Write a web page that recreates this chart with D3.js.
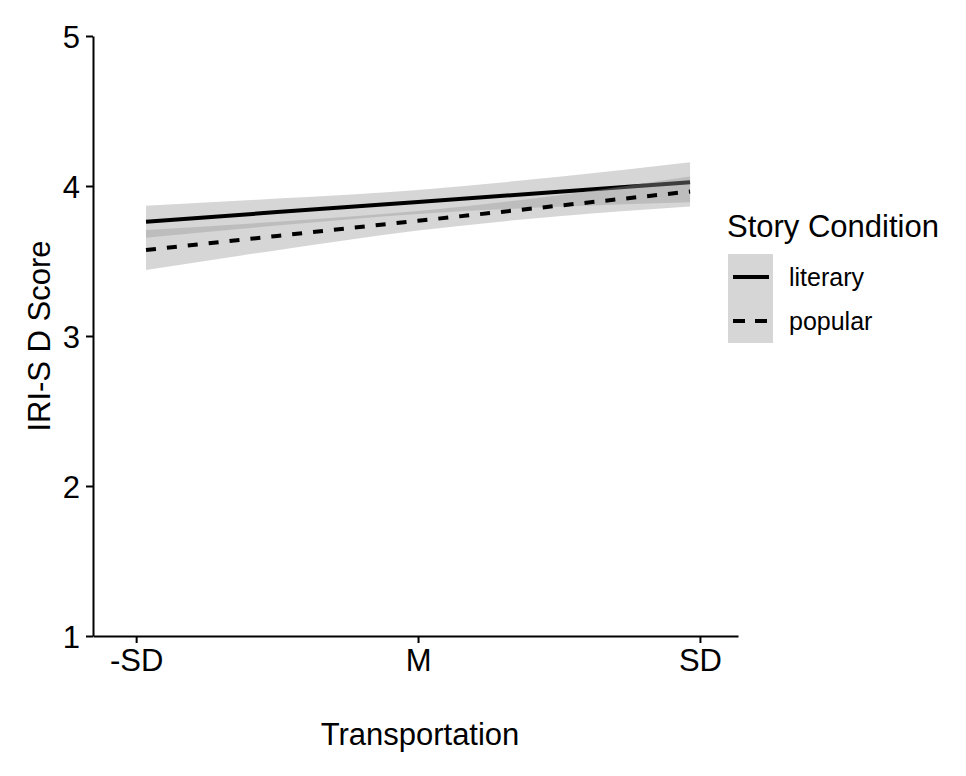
<!DOCTYPE html>
<html>
<head>
<meta charset="utf-8">
<script src="https://cdn.jsdelivr.net/npm/d3@7"></script>
<style>
  body { margin: 0; background: #fff; }
  text { font-family: "Liberation Sans", Arial, sans-serif; fill: #000; }
</style>
</head>
<body>
<div id="chart"></div>
<script>
// Dados
const xPoints = [-0.965, -0.5, 0, 0.5, 0.965];
const literaryFit = [3.762, 3.826, 3.894, 3.962, 4.025];
const literaryLower = [3.655, 3.736, 3.814, 3.862, 3.892];
const literaryUpper = [3.869, 3.916, 3.974, 4.062, 4.158];
const popularFit = [3.573, 3.667, 3.768, 3.869, 3.963];
const popularLower = [3.440, 3.572, 3.703, 3.799, 3.863];
const popularUpper = [3.706, 3.762, 3.833, 3.939, 4.063];

const xTickValues = [-1, 0, 1];
const xTickLabels = ["-SD", "M", "SD"];
const yTickValues = [1, 2, 3, 4, 5];
const legendLabels = ["literary", "popular"];

const svgWidth = 966;
const svgHeight = 776;

const svg = d3.select("#chart")
    .append("svg")
    .attr("width", svgWidth)
    .attr("height", svgHeight);

// Escalas
const xScale = d3.scaleLinear()
    .domain([-1.153, 1.135])
    .range([93, 738]);

const yScale = d3.scaleLinear()
    .domain([1, 5])
    .range([636, 36]);

function series(fit, lower, upper) {
    return xPoints.map((x, i) => ({ x: x, fit: fit[i], lo: lower[i], hi: upper[i] }));
}

const groups = [
    { name: "literary", data: series(literaryFit, literaryLower, literaryUpper), dash: null },
    { name: "popular", data: series(popularFit, popularLower, popularUpper), dash: "10,11" }
];

const area = d3.area()
    .x(d => xScale(d.x))
    .y0(d => yScale(d.lo))
    .y1(d => yScale(d.hi))
    .curve(d3.curveMonotoneX);

const line = d3.line()
    .x(d => xScale(d.x))
    .y(d => yScale(d.fit));

// Faixa + linha por grupo (como no geom_smooth)
groups.forEach(g => {
    svg.append("path")
        .datum(g.data)
        .attr("d", area)
        .attr("fill", "#999")
        .attr("fill-opacity", 0.4);

    svg.append("path")
        .datum(g.data)
        .attr("d", line)
        .attr("fill", "none")
        .attr("stroke", "#000")
        .attr("stroke-width", 4)
        .attr("stroke-dasharray", g.dash);
});

// Eixo X
const xAxis = svg.append("g")
    .attr("transform", "translate(0, 636)")
    .call(d3.axisBottom(xScale)
        .tickValues(xTickValues)
        .tickFormat((d, i) => xTickLabels[i])
        .tickSize(7)
        .tickSizeOuter(0)
        .tickPadding(6));

// Eixo Y
const yAxis = svg.append("g")
    .attr("transform", "translate(93, 0)")
    .call(d3.axisLeft(yScale)
        .tickValues(yTickValues)
        .tickFormat(d3.format("d"))
        .tickSize(7)
        .tickSizeOuter(0)
        .tickPadding(6));

[xAxis, yAxis].forEach(ax => {
    ax.select(".domain").attr("stroke", "#000").attr("stroke-width", 2);
    ax.selectAll(".tick line").attr("stroke", "#000").attr("stroke-width", 2);
    ax.selectAll(".tick text")
        .attr("fill", "#000")
        .style("font-size", "31px")
        .style("font-family", "'Liberation Sans', Arial, sans-serif");
});
yAxis.selectAll(".tick text").attr("dy", "0.36em");

// Rótulos dos eixos
svg.append("text")
    .attr("text-anchor", "middle")
    .attr("x", 420)
    .attr("y", 745)
    .style("font-size", "31px")
    .text("Transportation");

svg.append("text")
    .attr("text-anchor", "middle")
    .attr("transform", "translate(50, 336) rotate(-90)")
    .style("font-size", "31px")
    .text("IRI-S D Score");

// Legenda
const legend = svg.append("g");

legend.append("text")
    .attr("x", 727)
    .attr("y", 237)
    .style("font-size", "31px")
    .text("Story Condition");

const keyY = [254, 298];
const keyH = [44, 45];
groups.forEach((g, i) => {
    legend.append("rect")
        .attr("x", 728)
        .attr("y", keyY[i])
        .attr("width", 45)
        .attr("height", keyH[i])
        .attr("fill", "#999")
        .attr("fill-opacity", 0.4);

    legend.append("line")
        .attr("x1", 733)
        .attr("x2", 769)
        .attr("y1", keyY[i] + 23)
        .attr("y2", keyY[i] + 23)
        .attr("stroke", "#000")
        .attr("stroke-width", 4)
        .attr("stroke-dasharray", g.dash ? "12,10" : null);

    legend.append("text")
        .attr("x", 789)
        .attr("y", keyY[i] + 23)
        .attr("dy", "0.35em")
        .style("font-size", "25px")
        .text(legendLabels[i]);
});
</script>
</body>
</html>
